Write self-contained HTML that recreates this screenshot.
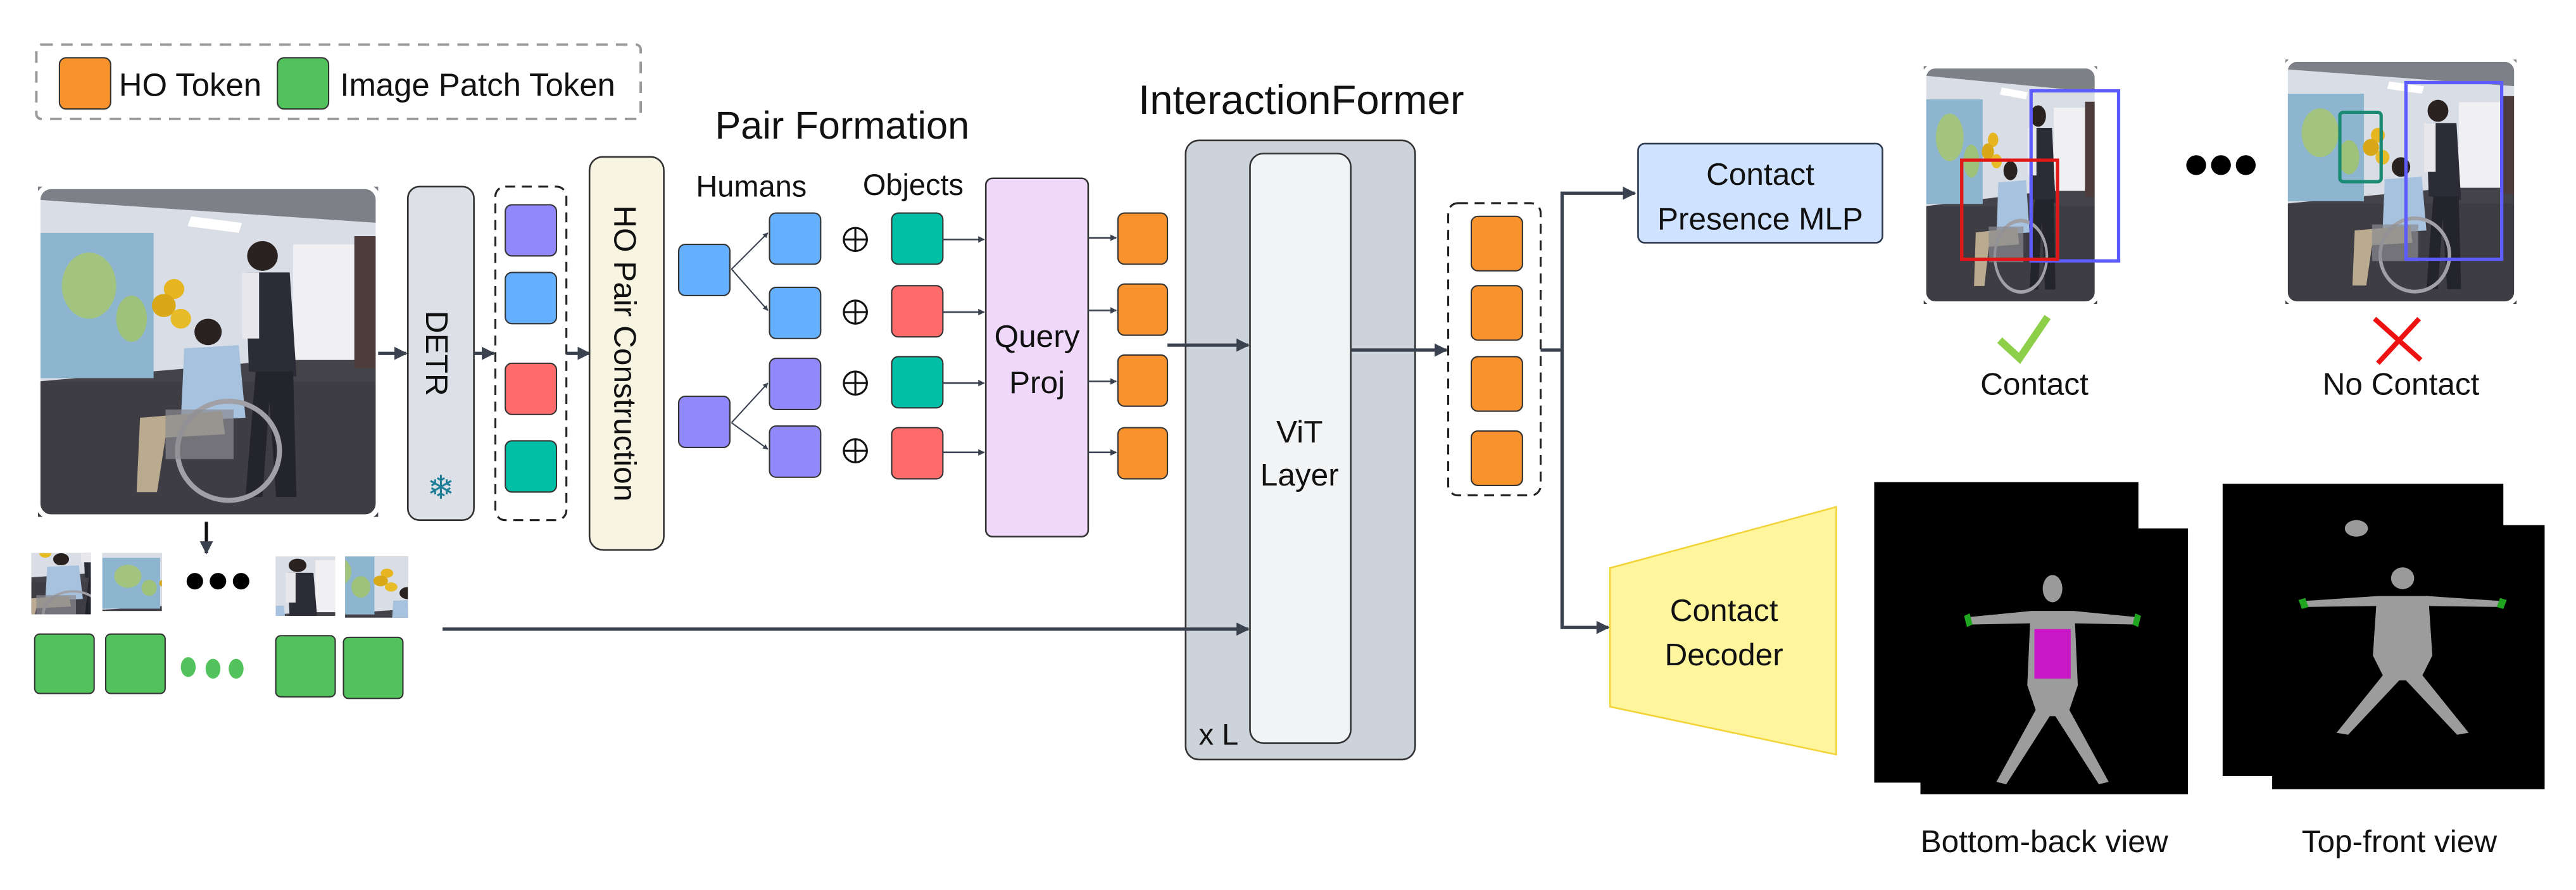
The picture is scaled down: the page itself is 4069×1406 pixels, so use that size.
<!DOCTYPE html>
<html><head><meta charset="utf-8"><style>
html,body{margin:0;padding:0;background:#fff;}
svg{display:block;}
text{font-family:"Liberation Sans",sans-serif;fill:#111;}
</style></head><body>
<svg width="4069" height="1406" viewBox="0 0 1560 539" xmlns="http://www.w3.org/2000/svg">
<defs>
<marker id="ah" viewBox="0 0 10 10" refX="9" refY="5" markerWidth="4" markerHeight="4" orient="auto"><path d="M0,0 L10,5 L0,10 z" fill="#3a4250"/></marker>
<g id="scene">
<rect x="0" y="0" width="200" height="200" fill="#45434a"/>
<polygon points="0,0 200,0 200,100 0,118" fill="#d9dde6"/>
<polygon points="0,0 200,0 200,22 0,8" fill="#7e8088"/>
<polygon points="90,18 120,22 118,28 88,24" fill="#fff"/>
<rect x="150" y="35" width="38" height="70" fill="#f0f0f2"/>
<rect x="186" y="30" width="14" height="80" fill="#4d3c3c"/>
<rect x="0" y="28" width="68" height="88" fill="#8db5cf"/>
<ellipse cx="30" cy="60" rx="16" ry="20" fill="#a3c47e"/>
<ellipse cx="55" cy="80" rx="9" ry="14" fill="#9fc27a"/>
<rect x="0" y="118" width="200" height="82" fill="#3f3d44"/>
<circle cx="80" cy="62" r="6" fill="#e6b520"/><circle cx="74" cy="72" r="7" fill="#d9a818"/><circle cx="84" cy="80" r="6" fill="#e8bb28"/>
<circle cx="132" cy="42" r="9" fill="#2a2220"/>
<polygon points="122,52 148,52 152,115 124,112" fill="#2c2c36"/>
<rect x="120" y="52" width="10" height="40" fill="#e8e8ec"/>
<polygon points="128,112 150,112 152,188 140,188 136,130 132,188 122,188" fill="#24242c"/>
<circle cx="100" cy="88" r="8" fill="#2a2220"/>
<polygon points="86,98 118,96 122,140 84,142" fill="#a6c2de"/>
<polygon points="60,140 108,136 110,150 75,152 70,185 58,185" fill="#b9aa90"/>
<circle cx="112" cy="160" r="30" fill="none" stroke="#a0a0a6" stroke-width="3"/>
<rect x="75" y="135" width="40" height="30" fill="#8a8a90" opacity="0.7"/>
</g>
<g id="body">
<ellipse cx="0" cy="-58" rx="7" ry="11" fill="#9a9a9a"/>
<path d="M-60,-35 L-15,-40 L15,-40 L60,-35 L60,-29 L16,-30 L18,20 L12,40 L40,98 L33,100 L2,45 L-2,45 L-33,100 L-40,98 L-12,40 L-18,20 L-16,-30 L-60,-29 z" fill="#9c9c9c"/>
<path d="M-63,-36 l4,-2 l2,9 l-4,2z M63,-36 l-4,-2 l-2,9 l4,2z" fill="#1fa51f"/>
</g>
</defs>

<!-- legend -->
<rect x="22" y="27" width="366" height="45" rx="3" fill="none" stroke="#999" stroke-width="1.5" stroke-dasharray="7,5"/>
<rect x="36" y="35" width="31" height="31" rx="4" fill="#f7922d" stroke="#333" stroke-width="0.8"/>
<text x="72" y="58" font-size="19.5">HO Token</text>
<rect x="168" y="35" width="31" height="31" rx="4" fill="#52c25c" stroke="#333" stroke-width="0.8"/>
<text x="206" y="58" font-size="19.5">Image Patch Token</text>

<!-- main photo -->
<svg x="23" y="113" width="206" height="200" viewBox="0 0 200 200" preserveAspectRatio="none"><use href="#scene"/></svg>
<rect x="23" y="113" width="206" height="200" rx="8" fill="none" stroke="#fff" stroke-width="3"/>
<line x1="229" y1="214" x2="246" y2="214" stroke="#3a4250" stroke-width="2" marker-end="url(#ah)"/>

<rect x="247" y="113" width="40" height="202" rx="7" fill="#dde0e6" stroke="#333" stroke-width="1"/>
<text transform="translate(258,214) rotate(90)" font-size="19" text-anchor="middle">DETR</text>
<text x="267" y="302" font-size="20" text-anchor="middle" style="fill:#1e7f99">❄</text>
<line x1="287" y1="214" x2="299" y2="214" stroke="#3a4250" stroke-width="2" marker-end="url(#ah)"/>

<rect x="300" y="113" width="43" height="202" rx="6" fill="none" stroke="#222" stroke-width="1.2" stroke-dasharray="6,4"/>
<rect x="306" y="124" width="31" height="31" rx="4" fill="#9088fb" stroke="#333" stroke-width="0.8"/>
<rect x="306" y="165" width="31" height="31" rx="4" fill="#64b0ff" stroke="#333" stroke-width="0.8"/>
<rect x="306" y="220" width="31" height="31" rx="4" fill="#fe6b6b" stroke="#333" stroke-width="0.8"/>
<rect x="306" y="267" width="31" height="31" rx="4" fill="#00bfa6" stroke="#333" stroke-width="0.8"/>
<line x1="343" y1="214" x2="357" y2="214" stroke="#3a4250" stroke-width="2" marker-end="url(#ah)"/>

<rect x="357" y="95" width="45" height="238" rx="8" fill="#f7f4e2" stroke="#333" stroke-width="1"/>
<text transform="translate(372,214) rotate(90)" font-size="19" text-anchor="middle">HO Pair Construction</text>

<!-- pair formation -->
<text x="510" y="84" font-size="23.5" text-anchor="middle">Pair Formation</text>
<text x="455" y="119" font-size="18" text-anchor="middle">Humans</text>
<text x="553" y="118" font-size="18" text-anchor="middle">Objects</text>
<rect x="411" y="148" width="31" height="31" rx="4" fill="#64b0ff" stroke="#333" stroke-width="0.8"/>
<rect x="411" y="240" width="31" height="31" rx="4" fill="#9088fb" stroke="#333" stroke-width="0.8"/>
<g stroke="#3a4250" stroke-width="0.8" fill="none" marker-end="url(#ah)">
<line x1="443" y1="163" x2="465" y2="141"/><line x1="443" y1="163" x2="465" y2="188"/>
<line x1="443" y1="256" x2="465" y2="232"/><line x1="443" y1="256" x2="465" y2="272"/>
</g>
<rect x="466" y="129" width="31" height="31" rx="4" fill="#64b0ff" stroke="#333" stroke-width="0.8"/>
<rect x="466" y="174" width="31" height="31" rx="4" fill="#64b0ff" stroke="#333" stroke-width="0.8"/>
<rect x="466" y="217" width="31" height="31" rx="4" fill="#9088fb" stroke="#333" stroke-width="0.8"/>
<rect x="466" y="258" width="31" height="31" rx="4" fill="#9088fb" stroke="#333" stroke-width="0.8"/>
<g fill="none" stroke="#111" stroke-width="1.2">
<circle cx="518" cy="145" r="7"/><path d="M511,145h14M518,138v14"/>
<circle cx="518" cy="189" r="7"/><path d="M511,189h14M518,182v14"/>
<circle cx="518" cy="232" r="7"/><path d="M511,232h14M518,225v14"/>
<circle cx="518" cy="273" r="7"/><path d="M511,273h14M518,266v14"/>
</g>
<rect x="540" y="129" width="31" height="31" rx="4" fill="#00bfa6" stroke="#333" stroke-width="0.8"/>
<rect x="540" y="173" width="31" height="31" rx="4" fill="#fe6b6b" stroke="#333" stroke-width="0.8"/>
<rect x="540" y="216" width="31" height="31" rx="4" fill="#00bfa6" stroke="#333" stroke-width="0.8"/>
<rect x="540" y="259" width="31" height="31" rx="4" fill="#fe6b6b" stroke="#333" stroke-width="0.8"/>
<g stroke="#3a4250" stroke-width="1" marker-end="url(#ah)">
<line x1="571" y1="145" x2="596" y2="145"/><line x1="571" y1="189" x2="596" y2="189"/>
<line x1="571" y1="232" x2="596" y2="232"/><line x1="571" y1="274" x2="596" y2="274"/>
</g>
<rect x="597" y="108" width="62" height="217" rx="4" fill="#f0d8fa" stroke="#333" stroke-width="1"/>
<text x="628" y="210" font-size="19" text-anchor="middle">Query</text>
<text x="628" y="238" font-size="19" text-anchor="middle">Proj</text>
<g stroke="#3a4250" stroke-width="1" marker-end="url(#ah)">
<line x1="659" y1="144" x2="676" y2="144"/><line x1="659" y1="188" x2="676" y2="188"/>
<line x1="659" y1="231" x2="676" y2="231"/><line x1="659" y1="274" x2="676" y2="274"/>
</g>
<rect x="677" y="129" width="30" height="31" rx="4" fill="#f7922d" stroke="#333" stroke-width="0.8"/>
<rect x="677" y="172" width="30" height="31" rx="4" fill="#f7922d" stroke="#333" stroke-width="0.8"/>
<rect x="677" y="215" width="30" height="31" rx="4" fill="#f7922d" stroke="#333" stroke-width="0.8"/>
<rect x="677" y="259" width="30" height="31" rx="4" fill="#f7922d" stroke="#333" stroke-width="0.8"/>

<!-- InteractionFormer -->
<text x="788" y="69" font-size="25" text-anchor="middle">InteractionFormer</text>
<rect x="718" y="85" width="139" height="375" rx="8" fill="#ccd3db" stroke="#333" stroke-width="1"/>
<rect x="757" y="93" width="61" height="357" rx="8" fill="#f2f3f5" stroke="#333" stroke-width="1"/>
<text x="787" y="268" font-size="19" text-anchor="middle">ViT</text>
<text x="787" y="294" font-size="19" text-anchor="middle">Layer</text>
<text x="738" y="451" font-size="18" text-anchor="middle">x L</text>
<line x1="707" y1="209" x2="756" y2="209" stroke="#3a4250" stroke-width="2" marker-end="url(#ah)"/>
<line x1="268" y1="381" x2="756" y2="381" stroke="#3a4250" stroke-width="2" marker-end="url(#ah)"/>
<line x1="818" y1="212" x2="876" y2="212" stroke="#3a4250" stroke-width="2" marker-end="url(#ah)"/>

<rect x="877" y="123" width="56" height="177" rx="6" fill="none" stroke="#222" stroke-width="1.2" stroke-dasharray="6,4"/>
<rect x="891" y="131" width="31" height="33" rx="4" fill="#f7922d" stroke="#333" stroke-width="0.8"/>
<rect x="891" y="173" width="31" height="33" rx="4" fill="#f7922d" stroke="#333" stroke-width="0.8"/>
<rect x="891" y="216" width="31" height="33" rx="4" fill="#f7922d" stroke="#333" stroke-width="0.8"/>
<rect x="891" y="261" width="31" height="33" rx="4" fill="#f7922d" stroke="#333" stroke-width="0.8"/>
<path d="M933,212 H946 M946,380 V117 H990" fill="none" stroke="#3a4250" stroke-width="2" marker-end="url(#ah)"/>
<path d="M946,212 V380 H974" fill="none" stroke="#3a4250" stroke-width="2" marker-end="url(#ah)"/>

<rect x="992" y="87" width="148" height="60" rx="4" fill="#cfe2ff" stroke="#2d3a50" stroke-width="1"/>
<text x="1066" y="112" font-size="19" text-anchor="middle">Contact</text>
<text x="1066" y="139" font-size="19" text-anchor="middle">Presence MLP</text>

<polygon points="975,344 1112,307 1112,457 975,428" fill="#fff59d" stroke="#f2d43a" stroke-width="1"/>
<text x="1044" y="376" font-size="19" text-anchor="middle">Contact</text>
<text x="1044" y="403" font-size="19" text-anchor="middle">Decoder</text>

<!-- top images -->
<svg x="1165" y="40" width="105" height="144" viewBox="0 0 200 200" preserveAspectRatio="none"><use href="#scene"/></svg>
<rect x="1165" y="40" width="105" height="144" rx="7" fill="none" stroke="#fff" stroke-width="3"/>
<rect x="1230" y="55" width="53" height="103" fill="none" stroke="#5c5cff" stroke-width="2"/>
<rect x="1188" y="97" width="58" height="60" fill="none" stroke="#e01818" stroke-width="2"/>
<svg x="1384" y="36" width="140" height="148" viewBox="0 0 200 200" preserveAspectRatio="none"><use href="#scene"/></svg>
<rect x="1384" y="36" width="140" height="148" rx="7" fill="none" stroke="#fff" stroke-width="3"/>
<rect x="1457" y="50" width="58" height="107" fill="none" stroke="#5c5cff" stroke-width="2"/>
<rect x="1417" y="68" width="25" height="42" rx="2" fill="none" stroke="#1a8a72" stroke-width="2"/>
<circle cx="1330" cy="100" r="6" fill="#000"/><circle cx="1345" cy="100" r="6" fill="#000"/><circle cx="1360" cy="100" r="6" fill="#000"/>
<path d="M1211,206 L1223,217 L1240,192" fill="none" stroke="#8ecf4a" stroke-width="4.5"/>
<path d="M1438,193 L1466,218 M1465,193 L1440,220" fill="none" stroke="#ee1111" stroke-width="3"/>
<text x="1232" y="239" font-size="19" text-anchor="middle">Contact</text>
<text x="1454" y="239" font-size="19" text-anchor="middle">No Contact</text>

<!-- body renders -->
<rect x="1135" y="292" width="160" height="182" fill="#000"/>
<rect x="1163" y="320" width="162" height="161" fill="#000"/>
<g transform="translate(1243,400) scale(0.85,0.75)"><use href="#body"/></g>
<rect x="1232" y="381" width="22" height="30" fill="#c818c8"/>
<rect x="1346" y="293" width="170" height="177" fill="#000"/>
<rect x="1376" y="318" width="165" height="160" fill="#000"/>
<ellipse cx="1427" cy="320" rx="7" ry="5" fill="#9a9a9a"/>
<g transform="translate(1455,385) scale(1.0,0.6)"><use href="#body"/></g>
<text x="1238" y="516" font-size="19" text-anchor="middle">Bottom-back view</text>
<text x="1453" y="516" font-size="19" text-anchor="middle">Top-front view</text>

<!-- patches -->
<line x1="125" y1="316" x2="125" y2="335" stroke="#111" stroke-width="2" marker-end="url(#ah)"/>
<svg x="19" y="335" width="36" height="37" viewBox="70 80 60 80" preserveAspectRatio="none"><use href="#scene"/></svg>
<svg x="62" y="335" width="36" height="35" viewBox="0 20 70 100" preserveAspectRatio="none"><use href="#scene"/></svg>
<circle cx="118" cy="352" r="5" fill="#000"/><circle cx="132" cy="352" r="5" fill="#000"/><circle cx="146" cy="352" r="5" fill="#000"/>
<svg x="167" y="337" width="36" height="36" viewBox="110 30 60 80" preserveAspectRatio="none"><use href="#scene"/></svg>
<svg x="209" y="337" width="38" height="37" viewBox="40 40 60 80" preserveAspectRatio="none"><use href="#scene"/></svg>
<rect x="21" y="384" width="36" height="36" rx="3" fill="#52c25c" stroke="#333" stroke-width="0.8"/>
<rect x="64" y="384" width="36" height="36" rx="3" fill="#52c25c" stroke="#333" stroke-width="0.8"/>
<ellipse cx="114" cy="404" rx="4.5" ry="6" fill="#52c25c"/><ellipse cx="129" cy="405" rx="4.5" ry="6" fill="#52c25c"/><ellipse cx="143" cy="405" rx="4.5" ry="6" fill="#52c25c"/>
<rect x="167" y="385" width="36" height="37" rx="3" fill="#52c25c" stroke="#333" stroke-width="0.8"/>
<rect x="208" y="386" width="36" height="37" rx="3" fill="#52c25c" stroke="#333" stroke-width="0.8"/>
</svg>
</body></html>
